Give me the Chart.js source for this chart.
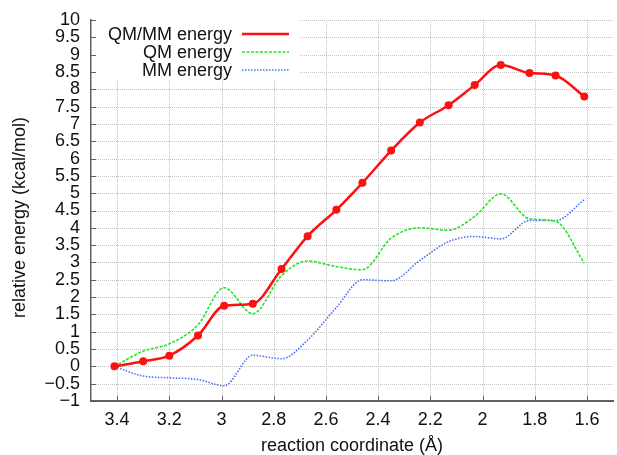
<!DOCTYPE html>
<html>
<head>
<meta charset="utf-8">
<script src="https://cdn.jsdelivr.net/npm/chart.js@4/dist/chart.umd.min.js"></script>
<style>
  html, body { margin: 0; padding: 0; background: #ffffff; overflow: hidden; }
  #c { display: block; }
</style>
</head>
<body>
<canvas id="c" width="617" height="455"></canvas>
<script>
// ---- data ----
const seriesNames = ["QM/MM energy", "QM energy", "MM energy"];
const reactionCoord = [3.41, 3.30, 3.20, 3.09, 2.99, 2.88, 2.77, 2.67, 2.56, 2.46, 2.35, 2.24, 2.13, 2.03, 1.93, 1.82, 1.72, 1.61];
const qmmmEnergy = [0, 0.15, 0.31, 0.89, 1.75, 1.81, 2.81, 3.76, 4.52, 5.30, 6.23, 7.04, 7.54, 8.12, 8.70, 8.47, 8.40, 7.79];
const qmEnergy   = [0, 0.44, 0.65, 1.20, 2.27, 1.52, 2.62, 3.04, 2.88, 2.79, 3.70, 4.00, 3.93, 4.33, 4.98, 4.26, 4.19, 2.98];
const mmEnergy   = [0, -0.28, -0.33, -0.38, -0.56, 0.32, 0.22, 0.76, 1.70, 2.50, 2.47, 3.06, 3.60, 3.75, 3.68, 4.21, 4.21, 4.81];
const xTickValues = [3.4, 3.2, 3.0, 2.8, 2.6, 2.4, 2.2, 2.0, 1.8, 1.6];
const xTickLabels = ["3.4", "3.2", "3", "2.8", "2.6", "2.4", "2.2", "2", "1.8", "1.6"];
const yTickValues = [-1, -0.5, 0, 0.5, 1, 1.5, 2, 2.5, 3, 3.5, 4, 4.5, 5, 5.5, 6, 6.5, 7, 7.5, 8, 8.5, 9, 9.5, 10];
const yTickLabels = ["\u22121", "\u22120.5", "0", "0.5", "1", "1.5", "2", "2.5", "3", "3.5", "4", "4.5", "5", "5.5", "6", "6.5", "7", "7.5", "8", "8.5", "9", "9.5", "10"];
const xTitle = "reaction coordinate (\u00C5)";
const yTitle = "relative energy (kcal/mol)";

const FONT = "'Liberation Sans', Arial, Helvetica, sans-serif";
const toPoints = vals => reactionCoord.map((x, i) => ({ x: x, y: vals[i] }));

// dotted grid drawn from the scales' own tick positions
const dottedGrid = {
  id: 'dottedGrid',
  beforeDatasetsDraw(chart) {
    const ctx = chart.ctx, a = chart.chartArea;
    const xs = chart.scales.x, ys = chart.scales.y;
    ctx.save();
    ctx.strokeStyle = '#c2c2c2';
    ctx.lineWidth = 1;
    ctx.setLineDash([1, 1]);
    ctx.beginPath();
    xTickValues.forEach(v => {
      const px = Math.round(xs.getPixelForValue(v)) + 0.5;
      ctx.moveTo(px, a.top);
      ctx.lineTo(px, a.bottom - 1);
    });
    yTickValues.forEach(v => {
      if (v === ys.min) return;
      const py = Math.round(ys.getPixelForValue(v)) + 0.5;
      ctx.moveTo(a.left + 1, py);
      ctx.lineTo(a.right, py);
    });
    ctx.stroke();
    ctx.restore();
  }
};

const gnuLegend = {
  id: 'gnuLegend',
  beforeDatasetsDraw(chart) {
    const ctx = chart.ctx, a = chart.chartArea;
    ctx.save();
    ctx.fillStyle = '#ffffff';
    ctx.fillRect(a.left + 1, a.top - 1, 207, 60);
    ctx.font = '18px ' + FONT;
    ctx.textAlign = 'right';
    ctx.textBaseline = 'middle';
    chart.data.datasets.forEach((ds, i) => {
      const y = a.top + 14 + i * 18;
      ctx.fillStyle = '#111111';
      ctx.fillText(ds.label, a.left + 141, y + 1);
      ctx.strokeStyle = ds.borderColor;
      ctx.lineWidth = ds.borderWidth;
      ctx.setLineDash(ds.borderDash || []);
      ctx.beginPath();
      ctx.moveTo(a.left + 151, y);
      ctx.lineTo(a.left + 198, y);
      ctx.stroke();
    });
    ctx.restore();
  },
  afterDraw(chart) {
    // rotated y-axis title, gnuplot style
    const ctx = chart.ctx, a = chart.chartArea;
    ctx.save();
    ctx.font = '18px ' + FONT;
    ctx.fillStyle = '#111111';
    ctx.textAlign = 'center';
    ctx.textBaseline = 'middle';
    ctx.translate(20, (a.top + a.bottom) / 2 + 7);
    ctx.rotate(-Math.PI / 2);
    ctx.fillText(yTitle, 0, 0);
    ctx.restore();
  }
};

const inwardTicks = {
  id: 'inwardTicks',
  afterDraw(chart) {
    const ctx = chart.ctx, a = chart.chartArea;
    const xs = chart.scales.x, ys = chart.scales.y;
    ctx.save();
    ctx.strokeStyle = '#606060';
    ctx.lineWidth = 1;
    ctx.beginPath();
    xTickValues.forEach(v => {
      const px = Math.round(xs.getPixelForValue(v)) + 0.5;
      ctx.moveTo(px, a.bottom);
      ctx.lineTo(px, a.bottom - 5);
    });
    yTickValues.forEach(v => {
      const py = Math.round(ys.getPixelForValue(v)) + 0.5;
      ctx.moveTo(a.left, py);
      ctx.lineTo(a.left + 5, py);
    });
    ctx.stroke();
    ctx.restore();
  }
};

new Chart(document.getElementById('c'), {
  type: 'line',
  data: {
    datasets: [
      {
        label: seriesNames[0], data: toPoints(qmmmEnergy),
        borderColor: '#ff1010', backgroundColor: '#ff1010', borderWidth: 2.5,
        pointRadius: 4, pointBackgroundColor: '#ff1010', pointBorderWidth: 0,
        cubicInterpolationMode: 'monotone', fill: false, order: 0
      },
      {
        label: seriesNames[1], data: toPoints(qmEnergy),
        borderColor: '#22e622', borderWidth: 1.6, borderDash: [3, 1.5],
        pointRadius: 0, cubicInterpolationMode: 'monotone', fill: false, order: 1
      },
      {
        label: seriesNames[2], data: toPoints(mmEnergy),
        borderColor: '#4a6cff', borderWidth: 1.6, borderDash: [1.5, 1.5],
        pointRadius: 0, cubicInterpolationMode: 'monotone', fill: false, order: 2
      }
    ]
  },
  options: {
    responsive: false,
    animation: false,
    devicePixelRatio: 1,
    layout: { padding: { top: 19, right: 0, bottom: 0, left: 0 } },
    plugins: { legend: { display: false }, tooltip: { enabled: false } },
    scales: {
      x: {
        type: 'linear', reverse: true, min: 1.5, max: 3.5,
        afterBuildTicks: s => { s.ticks = xTickValues.map(v => ({ value: v })); },
        afterFit: s => { s.height = 54; },
        ticks: {
          autoSkip: false, maxRotation: 0, padding: 8, color: '#111111',
          font: { family: FONT, size: 18 },
          callback: (v, i) => xTickLabels[i]
        },
        grid: { display: false, drawOnChartArea: false, drawTicks: false },
        border: { display: true, color: '#606060', width: 2 },
        title: {
          display: true, text: xTitle, color: '#111111',
          font: { family: FONT, size: 18, lineHeight: 1 },
          padding: { top: 0, bottom: 0 }
        }
      },
      y: {
        type: 'linear', min: -1, max: 10,
        afterBuildTicks: s => { s.ticks = yTickValues.map(v => ({ value: v })); },
        afterFit: s => { s.width = 91; },
        ticks: {
          autoSkip: false, padding: 11, color: '#111111',
          font: { family: FONT, size: 18, lineHeight: 1 },
          callback: (v, i) => yTickLabels[i]
        },
        grid: { display: false, drawOnChartArea: false, drawTicks: false },
        border: { display: true, color: '#606060', width: 1.5 },
        title: { display: false, text: yTitle }
      }
    }
  },
  plugins: [dottedGrid, gnuLegend, inwardTicks]
});
</script>
</body>
</html>
